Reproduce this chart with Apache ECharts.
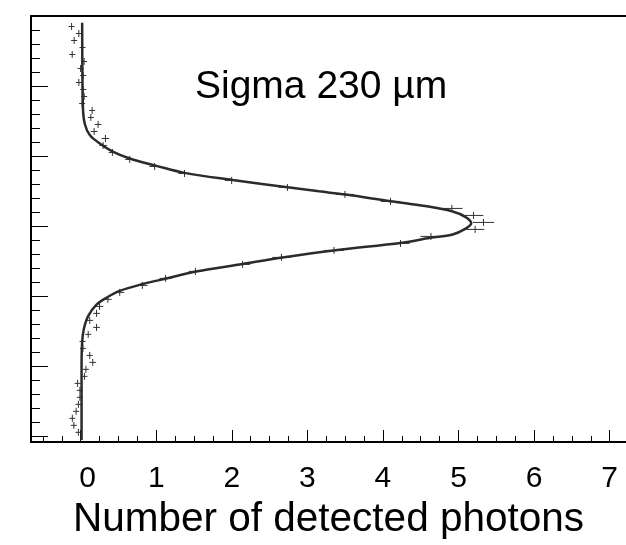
<!DOCTYPE html>
<html>
<head>
<meta charset="utf-8">
<script src="https://cdn.jsdelivr.net/npm/echarts@6/dist/echarts.min.js"></script>
<style>
html,body{margin:0;padding:0;background:#fff;}
#chart{width:626px;height:545px;}
</style>
</head>
<body>
<div id="chart"></div>
<script>
// ---- data (x: number of detected photons, y: position in mm) ----
const pointY = [2.925,2.875,2.825,2.775,2.725,2.675,2.625,2.575,2.525,2.475,2.425,2.375,2.325,2.275,2.225,2.175,2.125,2.075,2.025,1.975,1.925,1.875,1.825,1.775,1.725,1.675,1.625,1.575,1.525,1.475,1.425,1.375,1.325,1.275,1.225,1.175,1.125,1.075,1.025,0.975,0.925,0.875,0.825,0.775,0.725,0.675,0.625,0.575,0.525,0.475,0.425,0.375,0.325,0.275,0.225,0.175,0.125,0.075,0.025];
const pointX = [-0.12,-0.024,-0.086,0.025,-0.112,0.046,-0.001,0.033,-0.024,0.033,0.046,0.02,0.152,0.135,0.231,0.178,0.328,0.297,0.42,0.649,0.979,1.374,1.998,2.736,3.497,4.10,4.912,5.198,5.33,5.22,4.635,4.232,3.352,2.657,2.143,1.519,1.124,0.816,0.517,0.36,0.25,0.21,0.12,0.21,0.10,0.025,0.03,0.12,0.16,0.07,0.05,-0.04,-0.01,-0.01,-0.03,-0.06,-0.11,-0.09,-0.03];
const pointErrX = [0.04,0.04,0.04,0.04,0.04,0.04,0.04,0.04,0.04,0.04,0.04,0.04,0.04,0.04,0.045,0.045,0.05,0.05,0.05,0.06,0.07,0.08,0.09,0.11,0.12,0.13,0.14,0.13,0.14,0.12,0.14,0.12,0.13,0.12,0.10,0.09,0.08,0.07,0.06,0.05,0.05,0.045,0.045,0.045,0.04,0.04,0.04,0.04,0.045,0.04,0.04,0.04,0.04,0.04,0.04,0.04,0.04,0.04,0.04];
const binHalfWidth = 0.025;

const fitX = [0.02,0.022,0.03,0.055,0.121,0.253,0.425,0.649,0.992,1.374,2.011,2.736,3.154,3.507,4.100,4.562,4.912,5.089,5.168,5.089,4.912,4.627,4.253,3.375,2.670,2.143,1.528,1.133,0.824,0.517,0.342,0.210,0.099,0.042,0.020,0.012,0.012];
const fitY = [2.952,2.694,2.345,2.228,2.149,2.089,2.031,1.982,1.931,1.879,1.828,1.776,1.747,1.724,1.677,1.642,1.605,1.565,1.519,1.479,1.437,1.415,1.380,1.326,1.274,1.228,1.174,1.124,1.085,1.036,0.987,0.937,0.856,0.763,0.670,0.509,-0.03];

const xMajorTicks = [0,1,2,3,4,5,6,7];
const xTickLabels = ['0','1','2','3','4','5','6','7'];
const yMajorTicks = [0,0.5,1.0,1.5,2.0,2.5,3.0];
const xMinorTicks = [];
for (let v = -0.5; v <= 7.01; v += 0.25) { if (Math.abs(v - Math.round(v)) > 1e-6) xMinorTicks.push(+v.toFixed(2)); }
const yMinorTicks = [];
for (let v = 0; v <= 3.001; v += 0.1) { if (Math.abs(v*2 - Math.round(v*2)) > 1e-6) yMinorTicks.push(+v.toFixed(2)); }

const annotation = 'Sigma 230 µm';
const xTitle = 'Number of detected photons';

// ---- chart ----
const X_MIN = -0.657, X_MAX = 7.216, Y_MIN = -0.044, Y_MAX = 3.0;
const FONT = "'Liberation Sans', Arial, Helvetica, sans-serif";

const chart = echarts.init(document.getElementById('chart'), null, {renderer: 'canvas'});
const points = pointX.map((x, i) => [x, pointY[i], pointErrX[i], binHalfWidth]);
const fit = fitX.map((x, i) => [x, fitY[i]]);

function xLabel(v) {
  const i = xMajorTicks.indexOf(v);
  if (i < 0) return '';
  return i === 0 ? '{z|' + xTickLabels[i] + '}' : xTickLabels[i];
}

chart.setOption({
  animation: false,
  backgroundColor: '#fff',
  grid: {left: 31, top: 16, right: -2, bottom: 93, show: false},
  xAxis: [
    {
      type: 'value', min: X_MIN, max: X_MAX, position: 'bottom',
      axisLine: {show: true, onZero: false, lineStyle: {color: '#000', width: 2}},
      axisTick: {show: true, inside: true, length: 12, customValues: xMajorTicks, lineStyle: {color: '#000', width: 1}},
      axisLabel: {show: true, customValues: xMajorTicks, formatter: xLabel, fontSize: 30, color: '#000', fontFamily: FONT, margin: 22,
        rich: {z: {fontSize: 30, color: '#000', fontFamily: FONT, padding: [0, 0, 0, 14]}}},
      splitLine: {show: false},
      name: xTitle, nameLocation: 'middle', nameGap: 57,
      nameTextStyle: {fontSize: 40.5, color: '#000', fontFamily: FONT}
    },
    {
      type: 'value', min: X_MIN, max: X_MAX, position: 'bottom',
      axisLine: {show: false, onZero: false},
      axisTick: {show: true, inside: true, length: 6, customValues: xMinorTicks, lineStyle: {color: '#000', width: 1}},
      axisLabel: {show: false},
      splitLine: {show: false}
    },
    {
      type: 'value', min: X_MIN, max: X_MAX, position: 'top',
      axisLine: {show: true, onZero: false, lineStyle: {color: '#000', width: 2}},
      axisTick: {show: false},
      axisLabel: {show: false},
      splitLine: {show: false}
    }
  ],
  yAxis: [
    {
      type: 'value', min: Y_MIN, max: Y_MAX, position: 'left',
      axisLine: {show: true, onZero: false, lineStyle: {color: '#000', width: 2}},
      axisTick: {show: true, inside: true, length: 17, customValues: yMajorTicks, lineStyle: {color: '#000', width: 1}},
      axisLabel: {show: false},
      splitLine: {show: false}
    },
    {
      type: 'value', min: Y_MIN, max: Y_MAX, position: 'left',
      axisLine: {show: false, onZero: false},
      axisTick: {show: true, inside: true, length: 9, customValues: yMinorTicks, lineStyle: {color: '#000', width: 1}},
      axisLabel: {show: false},
      splitLine: {show: false}
    }
  ],
  graphic: [{
    type: 'text', left: 195, top: 68, z: 100,
    style: {text: annotation, fontSize: 39, fontFamily: FONT, fill: '#000'}
  }],
  series: [
    {
      type: 'custom', xAxisIndex: 0, yAxisIndex: 0, z: 2,
      data: points,
      renderItem: function (params, api) {
        const x = api.value(0), y = api.value(1), ex = api.value(2), ey = api.value(3);
        const l = api.coord([x - ex, y]), r = api.coord([x + ex, y]);
        const t = api.coord([x, y + ey]), b = api.coord([x, y - ey]);
        const st = {stroke: '#333', lineWidth: 1};
        return {type: 'group', children: [
          {type: 'line', shape: {x1: l[0], y1: l[1], x2: r[0], y2: r[1]}, style: st},
          {type: 'line', shape: {x1: t[0], y1: t[1], x2: b[0], y2: b[1]}, style: st}
        ]};
      }
    },
    {
      type: 'line', xAxisIndex: 0, yAxisIndex: 0, z: 3,
      data: fit, showSymbol: false, smooth: 0.35,
      lineStyle: {color: '#2b2b2b', width: 2.5}
    }
  ]
});
</script>
</body>
</html>
